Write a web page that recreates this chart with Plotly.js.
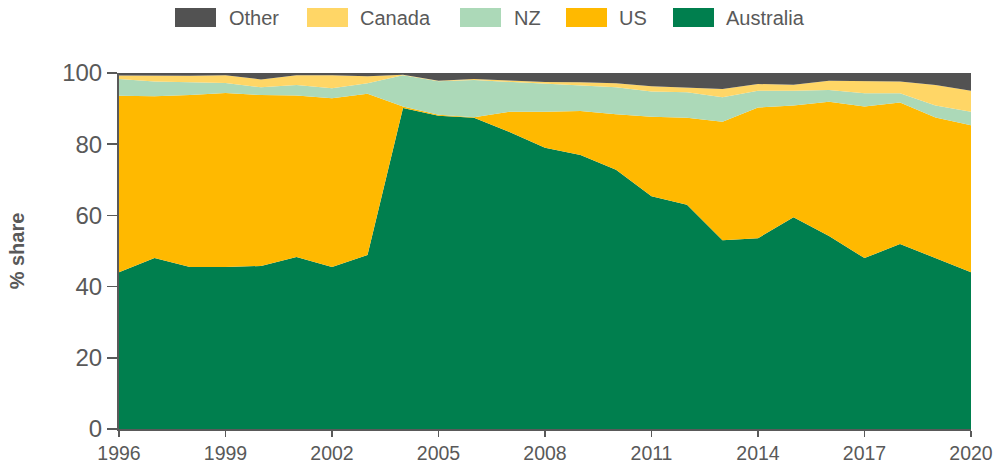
<!DOCTYPE html>
<html>
<head>
<meta charset="utf-8">
<script src="https://cdn.plot.ly/plotly-3.0.1.min.js"></script>
<style>
  html, body { margin: 0; padding: 0; background: #fff; }
  #chart { width: 995px; height: 468px; }
</style>
</head>
<body>
<div id="chart"></div>
<script>
const years = [1996,1997,1998,1999,2000,2001,2002,2003,2004,2005,2006,2007,2008,2009,2010,2011,2012,2013,2014,2015,2016,2017,2018,2019,2020];
const australia = [44,48,45.5,45.5,45.8,48.3,45.5,48.9,90.2,88,87.4,83.4,79,77,72.8,65.4,63,53,53.6,59.5,54.2,48,52,48,44];
const us = [49.6,45.5,48.3,48.9,48,45.4,47.4,45.3,0.4,0.3,0.2,5.7,10.1,12.3,15.6,22.3,24.4,33.3,36.7,31.4,37.7,42.6,39.7,39.5,41.3];
const nz = [4.7,4.1,3.6,2.8,2.2,2.9,2.8,2.9,8.8,9.4,10.4,8.4,7.8,7.2,7.6,7.1,7.2,6.9,4.7,4.1,3.3,3.7,2.6,3.4,3.8];
const canada = [1.0,1.6,1.8,2.2,2.2,2.8,3.7,2.0,0.1,0.1,0.3,0.4,0.6,0.9,1.1,1.5,1.4,2.3,1.9,1.7,2.6,3.4,3.3,5.7,5.9];
const other = [0.7,0.8,0.8,0.6,1.8,0.6,0.6,0.9,0.5,2.2,1.7,2.1,2.5,2.6,2.9,3.7,4,4.5,3.1,3.3,2.2,2.3,2.4,3.4,5];
const xTicks = [1996,1999,2002,2005,2008,2011,2014,2017,2020];
const yTitle = '% share';

const seriesNames = ['Australia','US','NZ','Canada','Other'];
const seriesValues = [australia, us, nz, canada, other];
const seriesColors = ['#007F4E','#FFB900','#ACD9B8','#FFD666','#525252'];

const FONT = 'Liberation Sans, Arial, sans-serif';
const GREY = '#595959';

const traces = seriesNames.map((name, i) => ({
  type: 'scatter',
  mode: 'lines',
  name: name,
  x: years,
  y: seriesValues[i],
  stackgroup: 'one',
  line: { width: 0, color: seriesColors[i] },
  fillcolor: seriesColors[i],
  hoverinfo: 'skip',
  showlegend: false
}));

// Legend drawn at top (order: Other, Canada, NZ, US, Australia)
const legendOrder = [4,3,2,1,0];
const legendSwatchX = [56, 188, 341, 447, 554];   // px offsets from plot left
const legendTextX = [108, 239, 393, 498, 605];
const shapes = [];
const annotations = [];
legendOrder.forEach((idx, k) => {
  shapes.push({
    type: 'rect', xref: 'paper', yref: 'paper',
    xsizemode: 'pixel', ysizemode: 'pixel', xanchor: 0, yanchor: 1,
    x0: legendSwatchX[k], x1: legendSwatchX[k] + 41,
    y0: 46, y1: 65,
    fillcolor: seriesColors[idx], line: { width: 0 }
  });
  annotations.push({
    xref: 'paper', yref: 'paper', x: 0, y: 1,
    xshift: legendTextX[k], yshift: 55.5,
    xanchor: 'left', yanchor: 'middle',
    text: seriesNames[idx], showarrow: false,
    font: { family: FONT, size: 20, color: GREY }
  });
});

const layout = {
  width: 995, height: 468,
  margin: { l: 119, r: 24, t: 73, b: 39 },
  paper_bgcolor: '#fff', plot_bgcolor: '#fff',
  showlegend: false,
  font: { family: FONT, color: GREY },
  xaxis: {
    range: [1996, 2020],
    tickvals: xTicks,
    ticktext: xTicks.map(String),
    showgrid: false, zeroline: false,
    showline: true, linecolor: GREY, linewidth: 2,
    ticks: 'outside', ticklen: 6, tickwidth: 1.5, tickcolor: GREY,
    tickfont: { family: FONT, size: 19.5, color: GREY },
    fixedrange: true
  },
  yaxis: {
    range: [0, 100],
    dtick: 20,
    showgrid: false, zeroline: false,
    showline: true, linecolor: GREY, linewidth: 2,
    ticks: 'outside', ticklen: 10, tickwidth: 1.5, tickcolor: GREY,
    tickfont: { family: FONT, size: 24, color: GREY },
    title: { text: yTitle, font: { family: FONT, size: 20, color: GREY, weight: 'bold' }, standoff: 32 },
    fixedrange: true
  },
  shapes: shapes,
  annotations: annotations
};

Plotly.newPlot('chart', traces, layout, { staticPlot: true, displayModeBar: false });
</script>
</body>
</html>
